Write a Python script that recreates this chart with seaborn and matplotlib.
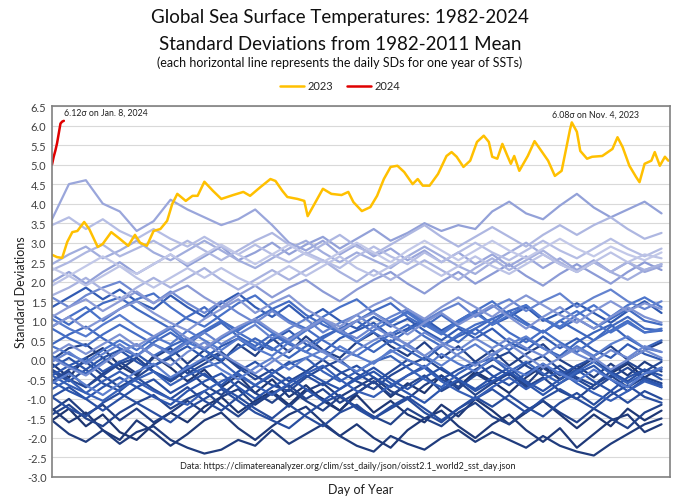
import numpy as np
import pandas as pd
import matplotlib
matplotlib.use("Agg")
import matplotlib.pyplot as plt
import seaborn as sns
from matplotlib.colors import LinearSegmentedColormap

# ---------------- data ----------------
hist_days = [1, 11, 21, 31, 41, 51, 61, 71, 81, 91, 101, 111, 121, 131, 141, 151, 161, 171, 181,
             191, 201, 211, 221, 231, 241, 251, 261, 271, 281, 291, 301, 311, 321, 331, 341, 351, 361]

y1982 = [-1.55,-1.25,-1.70,-1.40,-1.85,-2.05,-1.65,-1.35,-1.60,-1.20,-0.95,-1.35,-1.05,-0.80,-1.15,-0.75,-1.00,-1.30,-0.85,-0.55,-0.95,-0.60,-0.85,-0.40,-0.70,-0.30,-0.55,-0.85,-0.45,-0.15,-0.50,-0.25,0.05,-0.35,-0.10,-0.45,-0.20]
y1983 = [-0.10,-0.45,0.05,0.30,-0.15,-0.40,0.10,-0.20,-0.55,-0.25,-0.70,-0.40,-0.85,-0.50,-0.95,-0.65,-1.05,-1.30,-0.90,-1.35,-1.05,-1.40,-1.60,-1.15,-1.45,-1.00,-1.30,-1.65,-1.35,-1.05,-1.40,-1.75,-1.40,-1.70,-1.25,-1.55,-1.30]
y1984 = [-1.25,-1.60,-1.35,-1.80,-2.05,-1.55,-1.85,-2.20,-1.90,-1.55,-1.35,-1.75,-2.05,-1.70,-1.40,-1.20,-1.60,-1.95,-1.65,-2.00,-2.25,-1.80,-1.50,-1.30,-1.70,-2.00,-1.65,-1.40,-1.80,-2.10,-1.75,-2.25,-1.90,-1.55,-1.40,-1.85,-1.65]
y1985 = [-1.55,-1.90,-2.10,-1.80,-2.15,-1.85,-1.70,-2.05,-2.25,-2.40,-2.30,-2.05,-2.20,-1.80,-2.15,-1.90,-1.65,-1.95,-2.20,-2.35,-1.95,-2.15,-2.30,-2.00,-1.80,-2.10,-1.85,-2.05,-2.25,-1.95,-2.20,-2.35,-2.45,-2.15,-1.90,-1.65,-1.50]
y1986 = [-1.30,-1.00,-1.40,-1.15,-1.55,-1.25,-1.60,-1.35,-1.05,-1.35,-0.95,-0.75,-1.15,-0.85,-1.20,-0.80,-0.60,-0.95,-0.70,-0.45,-0.80,-1.00,-0.65,-0.40,-0.75,-0.35,-0.60,-0.30,-0.65,-0.20,-0.50,-0.15,-0.45,-0.10,-0.40,-0.05,-0.30]
y1987 = [-0.60,-0.30,-0.70,-0.35,-0.05,-0.35,0.05,0.30,-0.10,0.25,-0.05,0.40,0.10,0.55,0.20,0.60,0.25,0.05,0.45,0.70,0.35,0.10,0.45,0.05,0.35,-0.05,0.25,-0.15,0.15,0.40,0.00,-0.25,0.10,0.35,0.00,0.25,0.45]
y1988 = [0.00,0.30,0.40,0.05,-0.25,0.05,-0.30,-0.55,-0.25,-0.65,-0.90,-0.55,-0.85,-1.10,-0.75,-1.05,-1.30,-0.95,-1.20,-1.45,-1.65,-1.25,-1.50,-1.70,-1.35,-1.10,-1.45,-1.65,-1.30,-1.05,-1.35,-1.60,-1.25,-1.50,-1.75,-1.35,-1.15]
y1989 = [-1.40,-1.15,-1.50,-1.70,-1.35,-1.10,-0.90,-1.25,-1.00,-0.80,-1.15,-1.45,-1.10,-0.85,-0.65,-1.00,-0.75,-1.10,-0.85,-0.55,-0.90,-0.65,-0.40,-0.80,-0.55,-0.90,-0.60,-0.35,-0.70,-0.45,-0.80,-1.00,-0.65,-0.40,-0.70,-0.45,-0.60]
y1990 = [-0.55,-0.25,-0.05,-0.40,-0.70,-0.45,-0.15,0.05,-0.35,-0.10,0.15,-0.20,-0.50,-0.25,-0.55,-0.30,0.00,-0.30,-0.55,-0.75,-0.40,-0.15,0.05,-0.25,-0.50,-0.25,0.00,0.20,-0.15,-0.40,-0.15,-0.45,-0.65,-0.30,-0.05,-0.30,-0.05]
y1991 = [-0.25,-0.50,-0.70,-0.40,-0.10,0.05,-0.30,-0.55,-0.25,0.00,0.20,-0.15,-0.40,-0.65,-0.80,-0.45,-0.20,0.00,-0.35,-0.60,-0.30,0.00,-0.20,-0.50,-0.70,-0.40,-0.15,-0.40,-0.10,0.10,-0.25,-0.50,-0.75,-0.45,-0.20,-0.50,-0.70]
y1992 = [-0.30,-0.55,-0.25,-0.60,-0.80,-0.45,-0.75,-1.00,-0.70,-1.05,-1.30,-0.95,-1.25,-1.50,-1.15,-1.45,-1.70,-1.35,-1.15,-1.50,-1.25,-1.00,-1.35,-1.60,-1.25,-0.95,-1.20,-0.90,-1.20,-1.45,-1.10,-0.85,-1.15,-0.80,-1.10,-0.80,-1.00]
y1993 = [-0.95,-1.25,-1.45,-1.10,-0.85,-1.10,-1.35,-1.60,-1.25,-1.00,-0.75,-1.05,-1.35,-1.55,-1.75,-1.40,-1.10,-0.90,-1.25,-1.50,-1.20,-0.95,-1.25,-1.55,-1.25,-1.00,-0.75,-1.05,-1.35,-1.00,-0.75,-1.00,-1.25,-0.90,-0.65,-0.95,-1.10]
y1994 = [-0.95,-0.70,-1.00,-1.30,-1.00,-0.70,-0.50,-0.85,-0.60,-0.35,-0.70,-0.95,-0.65,-0.40,-0.70,-0.40,-0.65,-0.35,-0.15,-0.45,-0.70,-0.40,-0.15,-0.50,-0.25,-0.05,-0.40,-0.65,-0.35,-0.10,-0.40,-0.15,0.05,-0.30,-0.55,-0.25,-0.40]
y1995 = [-0.20,0.05,-0.25,0.05,0.25,-0.05,-0.30,-0.50,-0.15,-0.40,-0.65,-0.30,-0.05,-0.35,-0.05,-0.30,-0.55,-0.75,-0.45,-0.20,-0.50,-0.75,-0.45,-0.20,-0.50,-0.75,-0.45,-0.20,-0.55,-0.80,-0.50,-0.25,-0.55,-0.80,-0.45,-0.25,-0.50]
y1996 = [-0.55,-0.80,-1.00,-0.70,-0.45,-0.70,-0.95,-1.15,-0.80,-0.55,-0.35,-0.70,-1.00,-0.70,-0.45,-0.75,-1.05,-0.75,-0.50,-0.30,-0.60,-0.85,-1.10,-0.75,-0.50,-0.80,-0.55,-0.30,-0.60,-0.90,-0.60,-0.35,-0.15,-0.50,-0.80,-0.50,-0.65]
y1997 = [-0.40,-0.15,0.05,-0.30,-0.05,0.15,-0.15,0.10,0.35,0.05,0.35,0.55,0.25,0.50,0.75,0.40,0.20,0.55,0.75,0.95,0.60,0.80,1.05,0.75,1.00,1.25,0.90,1.10,1.35,1.00,1.20,1.45,1.20,0.95,1.25,1.50,1.20]
y1998 = [1.35,1.60,1.85,1.55,1.80,1.50,1.30,1.65,1.35,1.10,1.45,1.70,1.35,1.10,1.40,1.05,1.30,1.00,0.80,1.10,0.85,1.05,0.75,0.50,0.80,0.55,0.80,0.45,0.25,0.60,0.30,0.55,0.25,0.05,0.40,0.15,0.00]
y1999 = [-0.40,-0.65,-0.85,-0.55,-0.30,-0.55,-0.80,-1.00,-1.15,-0.80,-0.55,-0.35,-0.65,-0.90,-0.60,-0.35,-0.15,-0.50,-0.80,-0.95,-0.65,-0.40,-0.20,-0.55,-0.80,-1.00,-0.70,-0.45,-0.75,-0.50,-0.30,-0.60,-0.85,-1.05,-0.80,-0.55,-0.70]
y2000 = [-0.75,-0.50,-0.85,-1.05,-0.75,-0.50,-0.30,-0.65,-0.40,-0.20,-0.05,-0.40,-0.65,-0.35,-0.10,0.05,-0.30,-0.55,-0.30,-0.05,0.10,-0.20,-0.50,-0.70,-0.35,-0.10,0.05,-0.30,-0.05,-0.35,-0.60,-0.30,-0.05,-0.35,-0.60,-0.35,-0.25]
y2001 = [0.10,-0.15,-0.35,-0.05,0.20,0.40,0.10,0.35,0.55,0.25,0.00,0.30,0.55,0.30,0.05,0.35,0.60,0.80,0.45,0.20,0.50,0.25,0.00,0.35,0.60,0.80,0.50,0.25,0.55,0.30,0.10,0.45,0.70,0.90,0.55,0.30,0.50]
y2002 = [0.40,0.65,0.85,0.55,0.30,0.10,0.45,0.70,0.40,0.70,0.95,0.60,0.35,0.65,0.40,0.20,0.55,0.80,1.00,0.70,0.45,0.75,1.00,0.70,0.45,0.80,1.05,1.25,0.95,0.70,1.00,0.75,0.50,0.85,1.10,0.80,0.75]
y2003 = [1.15,0.90,1.20,1.45,1.60,1.30,1.05,0.80,1.10,1.35,1.00,0.75,1.05,1.30,1.50,1.15,0.90,0.70,1.00,1.25,1.45,1.10,0.85,1.15,0.85,0.65,0.95,1.25,1.40,1.05,0.80,1.05,0.80,1.05,1.30,1.00,0.90]
y2004 = [0.80,0.55,0.35,0.65,0.90,0.65,0.40,0.20,0.50,0.75,1.00,0.70,0.45,0.25,0.55,0.80,0.50,0.25,0.10,0.40,0.65,0.90,0.60,0.35,0.65,0.90,1.05,0.70,0.45,0.75,0.45,0.20,0.50,0.75,1.00,0.70,0.75]
y2005 = [0.85,1.10,1.35,1.00,1.30,1.55,1.70,1.35,1.05,0.85,1.15,1.45,1.65,1.30,1.00,0.80,1.10,1.35,1.55,1.20,0.95,1.25,0.95,0.70,1.00,1.25,1.50,1.15,0.90,0.70,1.00,1.25,0.95,0.70,0.95,0.70,0.80]
y2006 = [0.35,0.15,-0.05,0.25,0.50,0.25,0.55,0.80,0.45,0.25,0.55,0.80,1.00,0.70,0.45,0.75,1.00,0.70,0.45,0.75,1.00,1.20,0.90,0.65,0.95,1.20,0.90,1.15,1.40,1.05,0.85,1.15,1.40,1.10,1.40,1.60,1.35]
y2007 = [1.05,0.80,0.60,0.90,1.15,0.85,0.60,0.40,0.75,0.50,0.25,0.55,0.30,0.10,0.45,0.20,0.00,0.35,0.10,-0.10,0.25,0.00,-0.20,0.15,-0.10,-0.30,0.05,-0.20,-0.40,-0.10,-0.35,-0.55,-0.25,-0.50,-0.70,-0.35,-0.20]
y2008 = [-0.60,-0.35,-0.65,-0.90,-0.60,-0.30,-0.10,-0.45,-0.20,0.05,-0.25,-0.50,-0.20,0.05,-0.25,0.05,0.25,-0.05,-0.30,-0.05,0.20,0.40,0.10,-0.15,0.15,0.40,0.10,0.40,0.60,0.30,0.05,0.35,0.10,0.40,0.60,0.30,0.20]
y2009 = [-0.05,0.20,-0.10,0.15,0.40,0.10,0.40,0.15,0.45,0.70,0.40,0.65,0.90,0.55,0.80,1.05,0.70,0.95,1.15,0.85,1.10,1.30,1.00,1.25,1.45,1.10,1.35,1.55,1.25,1.50,1.70,1.35,1.60,1.80,1.50,1.30,1.50]
y2010 = [1.60,1.35,1.65,1.85,2.00,1.70,1.45,1.75,1.45,1.20,1.50,1.20,0.95,1.25,0.95,0.75,1.05,0.75,0.55,0.85,0.60,0.40,0.70,0.45,0.25,0.55,0.30,0.55,0.30,0.10,0.40,0.15,-0.05,0.25,0.05,0.35,0.20]
y2011 = [0.05,-0.20,-0.40,-0.10,0.20,0.40,0.10,-0.15,0.20,0.45,0.15,-0.10,-0.35,-0.05,0.25,0.50,0.20,-0.05,0.25,0.50,0.70,0.35,0.10,0.40,0.10,-0.15,0.15,0.40,0.10,-0.20,0.05,0.30,0.05,-0.25,0.00,0.25,0.05]
y2012 = [0.15,0.40,0.15,0.40,0.65,0.35,0.60,0.85,0.55,0.30,0.60,0.85,1.05,0.75,0.50,0.80,1.05,0.75,1.00,1.20,0.90,0.65,0.95,1.20,0.90,1.15,1.40,1.10,0.80,1.10,1.35,1.05,0.80,1.10,1.35,1.10,0.95]
y2013 = [0.85,1.10,0.80,1.05,1.30,1.50,1.20,0.95,0.75,1.05,1.30,1.55,1.20,1.45,1.65,1.30,1.05,0.85,1.15,1.40,1.60,1.30,1.05,1.35,1.60,1.35,1.10,1.40,1.65,1.40,1.15,0.95,1.25,1.50,1.25,1.45,1.30]
y2014 = [1.10,1.35,1.55,1.25,1.50,1.75,1.45,1.70,1.90,1.60,1.35,1.65,1.90,1.60,1.85,2.05,1.75,1.50,1.80,2.05,2.25,1.95,1.70,2.00,2.25,1.95,2.20,2.45,2.15,1.90,2.20,2.45,2.20,1.95,2.25,2.50,2.30]
y2015 = [2.00,2.25,1.95,2.25,2.50,2.20,2.45,2.70,2.40,2.65,2.90,2.55,2.75,3.00,2.70,2.95,3.15,2.85,3.10,3.35,3.05,3.25,3.50,3.30,3.45,3.35,3.80,4.05,3.75,3.60,3.95,4.25,3.90,3.65,3.85,4.05,3.75]
y2016 = [3.60,4.50,4.60,4.00,3.80,3.30,3.55,4.10,3.85,3.65,3.45,3.60,3.85,3.45,3.00,2.80,3.05,2.70,2.95,2.65,2.85,2.55,2.80,2.50,2.75,2.45,2.70,2.40,2.65,2.35,2.60,2.30,2.55,2.25,2.50,2.25,2.40]
y2017 = [2.45,2.70,2.90,2.60,2.80,3.05,2.75,2.55,2.80,3.05,2.80,2.55,2.35,2.60,2.85,3.05,2.75,2.50,2.75,2.55,2.35,2.65,2.90,2.65,2.40,2.20,2.50,2.75,3.00,2.70,2.45,2.25,2.50,2.25,2.05,2.30,2.45]
y2018 = [1.65,1.85,2.10,1.80,1.55,1.85,2.10,1.85,2.10,2.35,2.05,1.80,2.05,2.30,2.05,2.30,2.55,2.25,2.00,2.30,2.05,2.30,2.55,2.30,2.05,2.35,2.60,2.30,2.55,2.80,2.50,2.25,2.50,2.25,2.50,2.30,2.45]
y2019 = [2.30,2.50,2.75,2.95,2.65,2.85,3.05,2.80,3.05,2.80,2.55,2.80,3.05,3.25,2.95,2.70,2.95,3.20,2.90,2.70,2.95,3.20,3.45,3.15,2.90,3.15,3.40,3.15,2.90,3.20,3.45,3.20,3.45,3.65,3.35,3.10,3.25]
y2020 = [3.45,3.65,3.35,3.60,3.30,3.10,3.35,3.10,2.90,3.15,2.90,2.70,2.95,2.70,2.50,2.75,2.55,2.35,2.65,2.90,2.65,2.45,2.75,2.50,2.75,3.00,2.75,2.55,2.80,3.05,2.80,2.60,2.85,3.10,2.85,2.65,2.85]
y2021 = [1.90,2.15,1.90,2.15,2.40,2.10,1.85,2.10,2.35,2.10,2.35,2.10,1.90,2.15,2.40,2.15,2.40,2.65,2.35,2.15,2.40,2.65,2.40,2.15,2.40,2.65,2.40,2.20,2.45,2.70,2.45,2.25,2.50,2.75,2.50,2.70,2.60]
y2022 = [2.35,2.15,2.40,2.65,2.40,2.20,2.45,2.70,2.45,2.70,2.95,2.70,2.45,2.70,2.95,2.70,2.50,2.75,3.00,2.75,2.50,2.80,3.05,2.80,2.55,2.80,3.05,2.80,2.60,2.85,3.10,2.85,2.65,2.90,2.70,2.55,2.75]

hist_years = list(range(1982, 2023))
hist_values = [y1982, y1983, y1984, y1985, y1986, y1987, y1988, y1989, y1990, y1991,
               y1992, y1993, y1994, y1995, y1996, y1997, y1998, y1999, y2000, y2001,
               y2002, y2003, y2004, y2005, y2006, y2007, y2008, y2009, y2010, y2011,
               y2012, y2013, y2014, y2015, y2016, y2017, y2018, y2019, y2020, y2021, y2022]

days_2023 = [1,4,7,10,13,16,20,23,28,31,36,41,46,50,53,57,61,65,69,72,75,80,84,87,91,96,
             101,108,114,118,124,130,133,137,140,146,150,152,156,161,166,172,176,179,184,
             189,193,197,201,205,209,214,217,220,224,229,234,237,240,244,248,252,256,259,
             261,264,267,270,272,274,277,282,286,290,294,298,302,305,307,308,311,313,317,
             320,326,332,335,338,342,346,348,351,355,357,360,363,365]
sd_2023 = [2.69,2.63,2.61,3.02,3.27,3.30,3.53,3.35,2.89,2.97,3.27,3.10,2.92,3.20,3.00,2.92,
           3.30,3.35,3.56,3.99,4.25,4.07,4.20,4.20,4.56,4.33,4.12,4.22,4.30,4.20,4.42,4.63,
           4.58,4.33,4.17,4.12,4.07,3.68,3.99,4.38,4.25,4.22,4.30,4.04,3.81,3.91,4.20,4.63,
           4.94,4.97,4.81,4.50,4.63,4.46,4.46,4.76,5.22,5.32,5.20,4.94,5.10,5.58,5.74,5.58,
           5.20,5.15,5.53,5.22,5.02,5.22,4.84,5.22,5.60,5.35,5.10,4.71,4.84,5.48,5.91,6.08,
           5.84,5.35,5.15,5.20,5.22,5.40,5.70,5.45,4.97,4.68,4.55,5.02,5.10,5.32,4.97,5.20,5.10]

days_2024 = [1, 2, 3, 4, 5, 6, 7, 8]
sd_2024 = [5.00, 5.20, 5.36, 5.55, 5.80, 6.05, 6.10, 6.12]

yticks = np.arange(-3.0, 6.51, 0.5)

# ---------------- build frames ----------------
hist_df = pd.DataFrame({
    "day": np.tile(hist_days, len(hist_years)),
    "sd": np.concatenate(hist_values),
    "year": np.repeat(hist_years, len(hist_days)),
})
recent_df = pd.concat([
    pd.DataFrame({"day": days_2023, "sd": sd_2023, "series": "2023"}),
    pd.DataFrame({"day": days_2024, "sd": sd_2024, "series": "2024"}),
])

cmap = LinearSegmentedColormap.from_list(
    "sst", [(0.0, "#1D3570"), (0.35, "#2B55AD"), (0.6, "#4C75CB"),
            (0.8, "#8C9BD6"), (1.0, "#C2C8E8")])
hist_palette = [cmap(i / (len(hist_years) - 1)) for i in range(len(hist_years))]

# ---------------- plot ----------------
sns.set_theme(style="white")
plt.rcParams["font.family"] = ["Lato", "DejaVu Sans"]

fig = plt.figure(figsize=(6.8, 5.02), dpi=100)
ax = fig.add_axes([52 / 680, 1 - 478 / 502, 618 / 680, 371 / 502])

sns.lineplot(data=hist_df, x="day", y="sd", hue="year", palette=hist_palette,
             estimator=None, sort=False, legend=False, linewidth=1.6, ax=ax,
             solid_joinstyle="round")
sns.lineplot(data=recent_df, x="day", y="sd", hue="series",
             palette={"2023": "#FFC000", "2024": "#E00000"},
             estimator=None, sort=False, linewidth=1.8, ax=ax,
             solid_joinstyle="round")

ax.set_xlim(1, 366)
ax.set_ylim(-3.0, 6.5)
ax.set_yticks(yticks)
ax.set_yticklabels([f"{v:.1f}" for v in yticks], fontsize=8, color="#404040")
ax.set_xticks([])
ax.tick_params(axis="y", length=0, pad=4)
ax.yaxis.grid(True, color="#D9D9D9", linewidth=0.8)
ax.set_axisbelow(True)
for s in ax.spines.values():
    s.set_color("#808080")
    s.set_linewidth(1.2)

ax.set_xlabel("Day of Year", fontsize=9, color="#202020", labelpad=4)
ax.set_ylabel("Standard Deviations", fontsize=9, color="#202020", labelpad=0)

ax.text(8, 6.35, "6.12σ on Jan. 8, 2024", fontsize=6.3, color="#202020",
        ha="left", va="center")
ax.text(322, 6.29, "6.08σ on Nov. 4, 2023", fontsize=6.3, color="#202020",
        ha="center", va="center")
ax.text(0.478, 0.03, "Data: https://climatereanalyzer.org/clim/sst_daily/json/oisst2.1_world2_sst_day.json",
        transform=ax.transAxes, fontsize=6.5, color="#202020", ha="center", va="center")

fig.text(0.5, 1 - 18 / 502, "Global Sea Surface Temperatures: 1982-2024",
         ha="center", va="center", fontsize=13.5, color="#101010")
fig.text(0.5, 1 - 44 / 502, "Standard Deviations from 1982-2011 Mean",
         ha="center", va="center", fontsize=13.5, color="#101010")
fig.text(0.5, 1 - 63 / 502, "(each horizontal line represents the daily SDs for one year of SSTs)",
         ha="center", va="center", fontsize=9, color="#101010")

handles, labels = ax.get_legend_handles_labels()
ax.get_legend().remove()
fig.legend(handles, labels, loc="center", bbox_to_anchor=(0.5, 1 - 87 / 502),
           ncol=2, frameon=False, fontsize=8, handlelength=2.2,
           columnspacing=1.2, handletextpad=0.3)

fig.savefig("out.png", dpi=100)
